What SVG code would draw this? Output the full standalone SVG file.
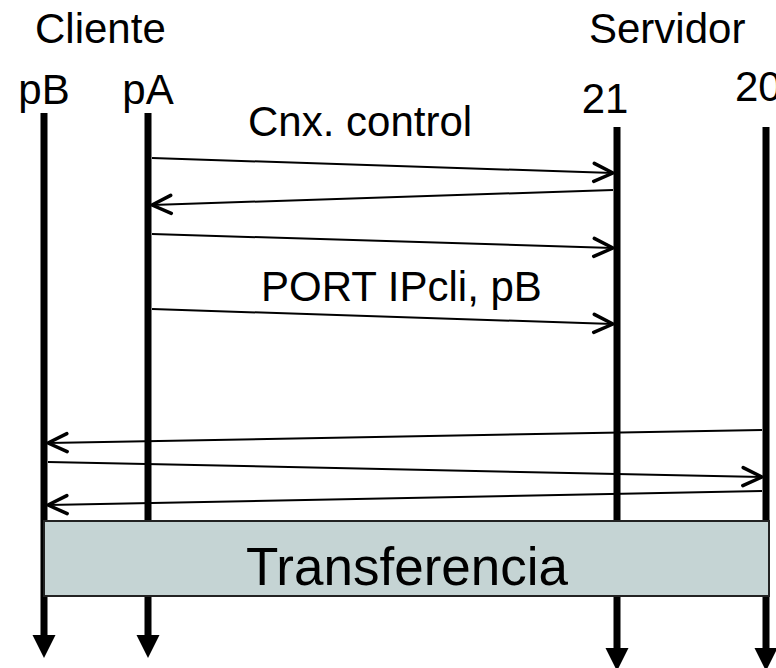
<svg xmlns="http://www.w3.org/2000/svg" width="776" height="668" viewBox="0 0 776 668">
<style>
  text { font-family: "Liberation Sans", Arial, sans-serif; fill: #000; }
  .lbl { font-size: 42px; }
  .big { font-size: 53px; }
  .life { stroke: #000; stroke-width: 7; fill: none; }
  .msg { stroke: #000; stroke-width: 2; fill: none; marker-end: url(#chev); }
  .tip { fill: #000; }
</style>
<defs>
  <marker id="chev" markerUnits="userSpaceOnUse" viewBox="-24 -12 26 24" markerWidth="26" markerHeight="24" refX="0" refY="0" orient="auto">
    <path d="M -19,-9 L 0,0 L -19,9" fill="none" stroke="#000" stroke-width="3.5" stroke-linecap="round" stroke-linejoin="round"/>
  </marker>
</defs>
<rect width="776" height="668" fill="#fff"/>
<text class="lbl" x="35" y="43">Cliente</text>
<text class="lbl" x="589" y="43">Servidor</text>
<g id="pB">
  <text class="lbl" x="44" y="104" text-anchor="middle">pB</text>
  <line class="life" x1="44" y1="113" x2="44" y2="638"/>
  <polygon class="tip" points="32.5,635 55.5,635 44,658"/>
</g>
<g id="pA">
  <text class="lbl" x="148" y="104" text-anchor="middle">pA</text>
  <line class="life" x1="148" y1="113" x2="148" y2="638"/>
  <polygon class="tip" points="136.5,635 159.5,635 148,658"/>
</g>
<g id="p21">
  <text class="lbl" x="605" y="113" text-anchor="middle">21</text>
  <line class="life" x1="617" y1="127" x2="617" y2="651"/>
  <polygon class="tip" points="605.5,648 628.5,648 617,671"/>
</g>
<g id="p20">
  <text class="lbl" x="735" y="101">20</text>
  <line class="life" x1="766" y1="127" x2="766" y2="651"/>
  <polygon class="tip" points="754.5,648 777.5,648 766,671"/>
</g>
<g id="connectors">
  <line class="msg" x1="152" y1="158" x2="613" y2="173"/>
  <line class="msg" x1="613" y1="190" x2="152" y2="205"/>
  <line class="msg" x1="152" y1="234" x2="613" y2="248"/>
  <line class="msg" x1="152" y1="309" x2="613" y2="324"/>
  <line class="msg" x1="762" y1="430" x2="48" y2="443"/>
  <line class="msg" x1="48" y1="462" x2="762" y2="477"/>
  <line class="msg" x1="762" y1="491" x2="48" y2="505"/>
</g>
<text class="lbl" x="248" y="136">Cnx. control</text>
<text class="lbl" x="261" y="301">PORT IPcli, pB</text>
<g id="transferencia">
  <rect x="44" y="521" width="725" height="75" fill="#c5d4d4" stroke="#222" stroke-width="2"/>
  <text class="big" x="407" y="585" text-anchor="middle">Transferencia</text>
</g>
</svg>
